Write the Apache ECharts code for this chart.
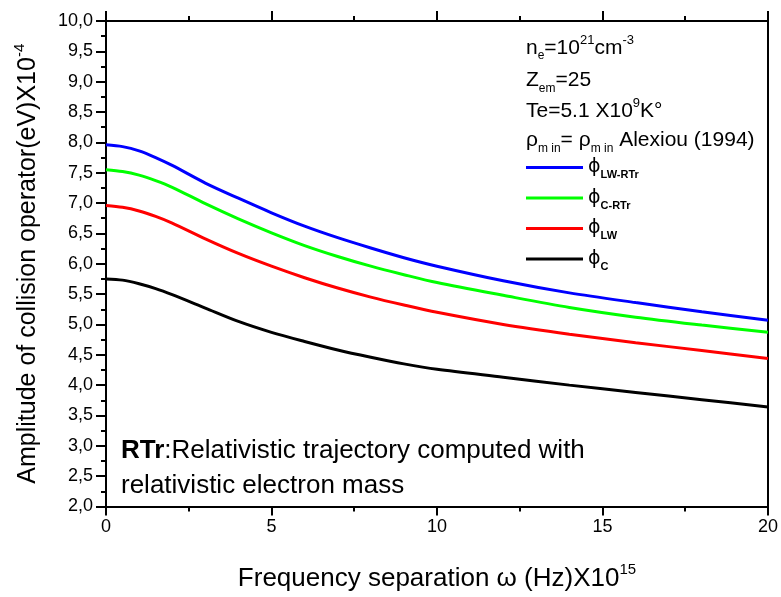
<!DOCTYPE html>
<html>
<head>
<meta charset="utf-8">
<script src="https://cdn.jsdelivr.net/npm/echarts@6/dist/echarts.min.js"></script>
<style>
  html, body { margin: 0; padding: 0; background: #fff; }
  #main { width: 781px; height: 597px; }
</style>
</head>
<body>
<div id="main"></div>
<script>
// frequency separation (x10^15 Hz)
const freq = [0, 0.5, 1, 1.5, 2, 3, 4, 5, 6, 7, 8, 9, 10, 12, 14, 16, 18, 20];
// amplitude of collision operator (x10^-4 eV)
const phiLWRTr = [7.96, 7.93, 7.86, 7.75, 7.62, 7.33, 7.08, 6.84, 6.62, 6.43, 6.26, 6.10, 5.96, 5.72, 5.52, 5.36, 5.21, 5.07];
const phiCRTr = [7.55, 7.52, 7.46, 7.37, 7.26, 6.99, 6.74, 6.51, 6.30, 6.12, 5.96, 5.82, 5.69, 5.48, 5.28, 5.12, 4.99, 4.87];
const phiLW = [6.96, 6.93, 6.87, 6.78, 6.67, 6.41, 6.17, 5.96, 5.77, 5.60, 5.45, 5.32, 5.20, 5.00, 4.84, 4.70, 4.57, 4.44];
const phiC = [5.75, 5.73, 5.67, 5.59, 5.49, 5.27, 5.05, 4.87, 4.72, 4.58, 4.46, 4.35, 4.26, 4.13, 4.00, 3.88, 3.76, 3.64];

const seriesNames = ['LW-RTr', 'C-RTr', 'LW', 'C'];
const seriesColors = ['#0000ff', '#00ff00', '#ff0000', '#000000'];
const seriesValues = [phiLWRTr, phiCRTr, phiLW, phiC];

const font = 'Liberation Sans';

const chart = echarts.init(document.getElementById('main'));

const pairs = (ys) => freq.map((x, i) => [x, ys[i]]);

// small text block (top right)
const smallRich = {
  b: { fontSize: 21, fontFamily: font, color: '#000', lineHeight: 28 },
  sup: { fontSize: 13, fontFamily: font, color: '#000', lineHeight: 14, verticalAlign: 'top' },
  sub: { fontSize: 12, fontFamily: font, color: '#000', lineHeight: 12, verticalAlign: 'bottom' }
};
// bigger text (axis names, note)
const makeBig = (size) => ({
  b: { fontSize: size, fontFamily: font, color: '#000', lineHeight: size + 7 },
  sup: { fontSize: 15, fontFamily: font, color: '#000', lineHeight: 16, verticalAlign: 'top' },
  bold: { fontSize: size, fontFamily: font, color: '#000', lineHeight: size + 7, fontWeight: 'bold' }
});

const axisLine = { show: true, onZero: false, lineStyle: { color: '#000', width: 2 } };

const option = {
  animation: false,
  backgroundColor: '#fff',
  grid: { left: 106, right: 9, top: 21, bottom: 89, containLabel: false },
  legend: {
    orient: 'vertical',
    left: 526,
    top: 158,
    padding: 0,
    icon: 'rect',
    itemWidth: 57,
    itemHeight: 3,
    itemGap: 8,
    data: seriesNames,
    formatter: (name) => '{phi|ϕ}{sub|' + name + '}',
    textStyle: {
      color: '#000',
      rich: {
        phi: { fontSize: 19, fontFamily: 'DejaVu Sans', color: '#000', lineHeight: 26 },
        sub: { fontSize: 11, fontFamily: font, fontWeight: 'bold', color: '#000', lineHeight: 11, verticalAlign: 'bottom' }
      }
    }
  },
  xAxis: [
    {
      type: 'value',
      min: 0,
      max: 20,
      interval: 5,
      position: 'bottom',
      name: '{b|Frequency separation ω (Hz)X10}{sup|15}',
      nameLocation: 'middle',
      nameGap: 56,
      nameTextStyle: { rich: makeBig(26) },
      axisLine: axisLine,
      axisTick: { show: true, inside: false, length: 9, lineStyle: { color: '#000', width: 2 } },
      minorTick: { show: true, splitNumber: 2, length: 5, lineStyle: { color: '#000', width: 2 } },
      axisLabel: { color: '#000', fontSize: 18, fontFamily: font, margin: 12 },
      splitLine: { show: false }
    },
    {
      type: 'value',
      min: 0,
      max: 20,
      interval: 5,
      position: 'top',
      axisLine: axisLine,
      axisTick: { show: true, inside: false, length: 10, lineStyle: { color: '#000', width: 2 } },
      minorTick: { show: true, splitNumber: 2, length: 5, lineStyle: { color: '#000', width: 2 } },
      axisLabel: { show: false },
      splitLine: { show: false }
    }
  ],
  yAxis: [
    {
      type: 'value',
      min: 2,
      max: 10,
      interval: 0.5,
      position: 'left',
      name: '{b|Amplitude of collision operator(eV)X10}{sup|-4}',
      nameLocation: 'middle',
      nameGap: 62,
      nameTextStyle: { rich: makeBig(25) },
      axisLine: axisLine,
      axisTick: { show: true, inside: false, length: 10, lineStyle: { color: '#000', width: 2 } },
      minorTick: { show: true, splitNumber: 2, length: 5, lineStyle: { color: '#000', width: 2 } },
      axisLabel: {
        color: '#000',
        fontSize: 18,
        fontFamily: font,
        margin: 13,
        formatter: (v) => v.toFixed(1).replace('.', ',')
      },
      splitLine: { show: false }
    },
    {
      type: 'value',
      min: 2,
      max: 10,
      interval: 0.5,
      position: 'right',
      axisLine: axisLine,
      axisTick: { show: false },
      axisLabel: { show: false },
      splitLine: { show: false }
    }
  ],
  graphic: [
    {
      type: 'text', left: 526, top: 34,
      style: { text: '{b|n}{sub|e}{b|=10}{sup|21}{b|cm}{sup|-3}', rich: smallRich }
    },
    {
      type: 'text', left: 526, top: 70,
      style: { text: '{b|Z}{sub|em}{b|=25}', rich: smallRich }
    },
    {
      type: 'text', left: 526, top: 97,
      style: { text: '{b|Te=5.1 X10}{sup|9}{b|K°}', rich: smallRich }
    },
    {
      type: 'text', left: 526, top: 130,
      style: { text: '{b|ρ}{sub|m in}{b|= ρ}{sub|m in}{b| Alexiou (1994)}', rich: smallRich }
    },
    {
      type: 'text', left: 121, top: 438,
      style: { text: '{bold|RTr}{b|:Relativistic trajectory computed with}', rich: makeBig(26) }
    },
    {
      type: 'text', left: 121, top: 473,
      style: { text: '{b|relativistic electron mass}', rich: makeBig(26) }
    }
  ],
  series: seriesNames.map((name, i) => ({
    name: name,
    type: 'line',
    xAxisIndex: 0,
    yAxisIndex: 0,
    data: pairs(seriesValues[i]),
    smooth: 0.3,
    showSymbol: false,
    symbol: 'none',
    lineStyle: { color: seriesColors[i], width: 3 },
    itemStyle: { color: seriesColors[i] }
  }))
};

chart.setOption(option);
</script>
</body>
</html>
